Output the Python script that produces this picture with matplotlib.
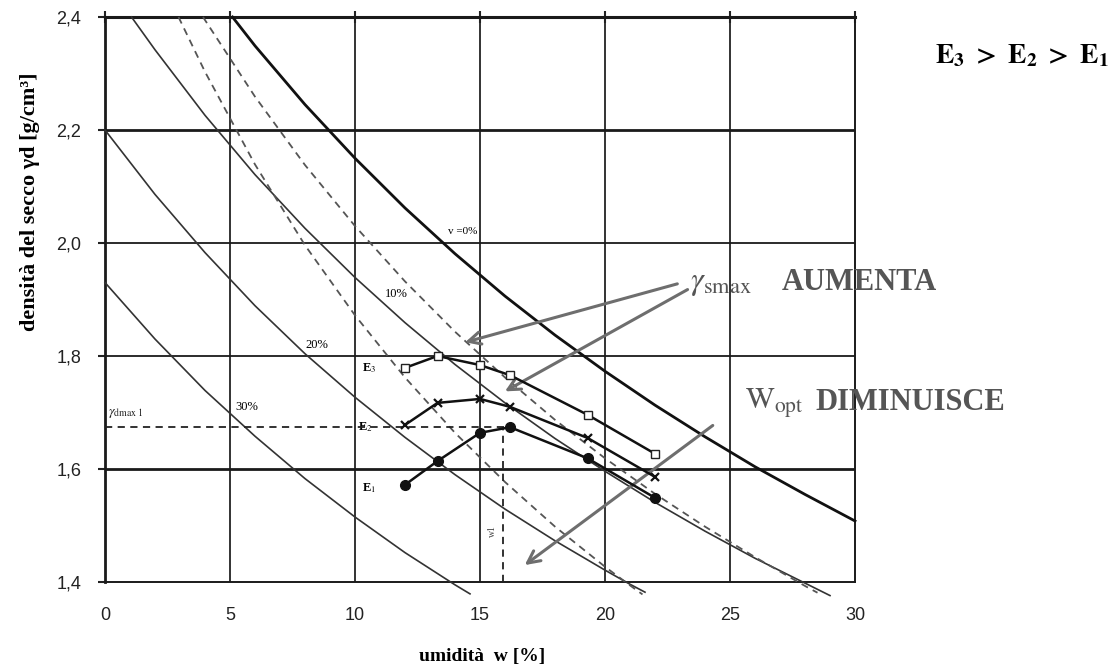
import matplotlib.pyplot as plt

plt.rcParams['mathtext.fontset'] = 'stix'

# saturation / air-void curves (w in %, gamma_d in g/cm3)
v0_x = [5.1, 6, 8, 10, 12, 14, 16, 18, 20, 22, 24, 26, 28, 30]
v0_y = [2.40, 2.349, 2.245, 2.150, 2.062, 1.981, 1.906, 1.837, 1.773, 1.713, 1.657, 1.604, 1.555, 1.508]

v10_x = [1.06, 2, 4, 6, 8, 10, 12, 14, 16, 18, 20, 22, 24, 26, 28, 29]
v10_y = [2.40, 2.342, 2.226, 2.121, 2.026, 1.939, 1.859, 1.785, 1.717, 1.654, 1.596, 1.541, 1.490, 1.442, 1.398, 1.376]

v20_x = [0, 2, 4, 6, 8, 10, 12, 14, 16, 18, 20, 21, 21.6]
v20_y = [2.200, 2.086, 1.983, 1.889, 1.804, 1.727, 1.656, 1.590, 1.529, 1.473, 1.421, 1.396, 1.382]

v30_x = [0, 2, 4, 6, 8, 10, 12, 14, 14.6]
v30_y = [1.930, 1.830, 1.739, 1.658, 1.583, 1.515, 1.452, 1.395, 1.379]

d1_x = [2.94, 4, 6, 8, 10, 12, 14, 16, 18, 20, 21, 21.5]
d1_y = [2.40, 2.303, 2.139, 1.996, 1.872, 1.762, 1.664, 1.577, 1.498, 1.427, 1.394, 1.378]

d2_x = [3.92, 6, 8, 10, 12, 14, 16, 18, 20, 22, 24, 26, 28, 28.5]
d2_y = [2.40, 2.259, 2.138, 2.030, 1.932, 1.843, 1.762, 1.687, 1.619, 1.556, 1.498, 1.444, 1.393, 1.381]

# compaction curves
w_pts = [12.0, 13.3, 15.0, 16.2, 19.3, 22.0]
e3 = [1.779, 1.800, 1.784, 1.766, 1.696, 1.627]
e2 = [1.678, 1.717, 1.724, 1.710, 1.655, 1.586]
e1 = [1.572, 1.614, 1.664, 1.674, 1.619, 1.549]

gdmax1 = 1.674
w1 = 15.9

xticks = [0, 5, 10, 15, 20, 25, 30]
yticks = [1.4, 1.6, 1.8, 2.0, 2.2, 2.4]
ylabels = ['1,4', '1,6', '1,8', '2,0', '2,2', '2,4']

W, H = 1118, 671
fig = plt.figure(figsize=(W / 100, H / 100), dpi=100)
ax = fig.add_axes([105 / W, 1 - 582 / H, 750 / W, 565 / H])


def fx(px):
    return px / W


def fy(py):
    return 1 - py / H


serif = 'Liberation Serif'
sans = 'Liberation Sans'

# grid
for x in [5, 10, 15, 20, 25]:
    ax.axvline(x, color='#333333', lw=1.4, zorder=1)
for y, lw in [(2.2, 2.0), (2.0, 1.3), (1.8, 1.3), (1.6, 2.0)]:
    ax.axhline(y, color='#1a1a1a', lw=lw, zorder=1)

# curves
ax.plot(v0_x, v0_y, color='#111111', lw=2.0, clip_on=False, zorder=3)
for xs, ys in [(v10_x, v10_y), (v20_x, v20_y), (v30_x, v30_y)]:
    ax.plot(xs, ys, color='#333333', lw=1.2, clip_on=False, zorder=3)
for xs, ys in [(d1_x, d1_y), (d2_x, d2_y)]:
    ax.plot(xs, ys, color='#555555', lw=1.3, ls=(0, (4, 3)), clip_on=False, zorder=3)

ax.plot(w_pts, e3, color='#111111', lw=1.8, marker='s', ms=6, mfc='white',
        mec='#222222', mew=1.0, zorder=5)
ax.plot(w_pts, e2, color='#111111', lw=1.8, marker='x', ms=6, mew=1.6, zorder=5)
ax.plot(w_pts, e1, color='#111111', lw=1.8, marker='o', ms=7, zorder=5)

ax.plot([0, 16.2], [gdmax1, gdmax1], color='#222222', lw=1.3, ls=(0, (4, 3)), zorder=4)
ax.plot([w1, w1], [1.4, gdmax1], color='#222222', lw=1.3, ls=(0, (4, 3)), zorder=4)

# in-plot labels
ax.text(13.7, 2.02, 'v =0%', fontsize=8, family=serif, va='center')
ax.text(11.2, 1.91, '10%', fontsize=9, family=serif, va='center')
ax.text(8.0, 1.82, '20%', fontsize=9, family=serif, va='center')
ax.text(5.2, 1.71, '30%', fontsize=9, family=serif, va='center')
ax.text(0.1, 1.70, r'$\gamma_{\rm dmax\ 1}$', fontsize=10, va='center', color='#222222')
ax.text(10.3, 1.779, r'E$_3$', fontsize=9, family=serif, weight='bold', va='center')
ax.text(10.1, 1.674, r'E$_2$', fontsize=9, family=serif, weight='bold', va='center')
ax.text(10.3, 1.566, r'E$_1$', fontsize=9, family=serif, weight='bold', va='center')
ax.text(15.5, 1.49, 'w1', fontsize=7, family=serif, rotation=90, va='center',
        ha='center', color='#444444')

# arrows
arrow = dict(arrowstyle='->', lw=2.2, color='#6e6e6e', mutation_scale=22)
ax.annotate('', xy=(14.3, 1.823), xytext=(23.0, 1.929), arrowprops=arrow, annotation_clip=False)
ax.annotate('', xy=(15.9, 1.735), xytext=(23.4, 1.920), arrowprops=arrow, annotation_clip=False)
ax.annotate('', xy=(16.7, 1.427), xytext=(24.4, 1.680), arrowprops=arrow, annotation_clip=False)

# axes styling
ax.set_xlim(0, 30)
ax.set_ylim(1.4, 2.4)
ax.set_xticks(xticks)
ax.set_xticklabels([str(t) for t in xticks], family=sans, fontsize=13)
ax.set_yticks(yticks)
ax.set_yticklabels(ylabels, family=sans, fontsize=13)
ax.tick_params(axis='x', length=0, pad=14, colors='#222222')
ax.tick_params(axis='y', direction='out', length=5, width=1.5, pad=12, colors='#222222')
ax.tick_params(axis='x', top=True, direction='inout', length=8, width=1.5)
ax.tick_params(axis='x', bottom=False)
for side, lw in [('left', 2.0), ('top', 2.2), ('right', 1.4), ('bottom', 1.4)]:
    ax.spines[side].set_linewidth(lw)
    ax.spines[side].set_color('#1a1a1a')

fig.text(fx(30), fy(202), 'densità del secco γd [g/cm³]', rotation=90, ha='center',
         va='center', family=serif, weight='bold', fontsize=16)
fig.text(fx(482), fy(657), 'umidità  w [%]', ha='center', va='center', family=serif,
         weight='bold', fontsize=14)

fig.text(fx(1022), fy(55), r'$\mathbf{E_3\ >\ E_2\ >\ E_1}$', ha='center', va='center', fontsize=20)

fig.text(fx(690), fy(283), r'$\gamma_{\rm smax}$', ha='left', va='center', fontsize=23, color='#555555')
fig.text(fx(782), fy(283), 'AUMENTA', ha='left', va='center', family=serif, weight='bold',
         fontsize=22, color='#555555')
fig.text(fx(745), fy(403), r'$\rm W_{opt}$', ha='left', va='center', fontsize=22, color='#555555')
fig.text(fx(815), fy(403), 'DIMINUISCE', ha='left', va='center', family=serif, weight='bold',
         fontsize=22, color='#555555')

fig.savefig('out.png', dpi=100)
